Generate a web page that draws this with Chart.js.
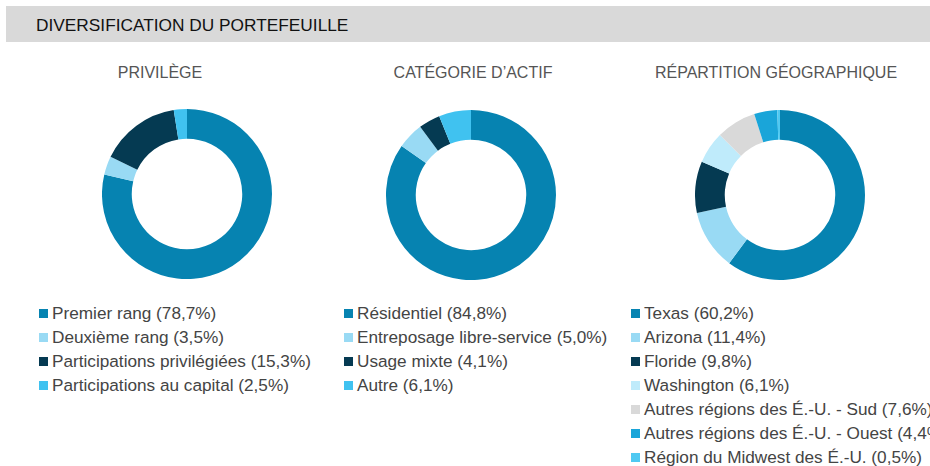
<!DOCTYPE html>
<html>
<head>
<meta charset="utf-8">
<script src="https://cdn.jsdelivr.net/npm/chart.js@4.4.0/dist/chart.umd.min.js"></script>
<style>
  html, body { margin: 0; padding: 0; background: #fff; }
  body { width: 930px; height: 466px; position: relative; overflow: hidden; font-family: "Liberation Sans", Arial, sans-serif; }
  .bandeau { position: absolute; left: 6px; top: 6px; width: 930px; height: 36px; background: #d9d9d9; }
  .bandeau span { position: absolute; left: 30px; top: 9px; font-size: 17.3px; color: #111; }
  .sous-titre { position: absolute; top: 64px; width: 300px; text-align: center; font-size: 16px; color: #555; }
  .donut { position: absolute; }
  .legende { position: absolute; top: 301px; font-size: 17.2px; color: #444; white-space: nowrap; }
  .legende div { height: 24px; line-height: 24px; }
  .legende i { display: inline-block; width: 9px; height: 9px; margin-right: 4px; vertical-align: 1px; }
</style>
</head>
<body>
<div class="bandeau"><span>DIVERSIFICATION DU PORTEFEUILLE</span></div>

<div class="sous-titre" style="left:10px">PRIVILÈGE</div>
<div class="sous-titre" style="left:323px">CATÉGORIE D’ACTIF</div>
<div class="sous-titre" style="left:626px">RÉPARTITION GÉOGRAPHIQUE</div>

<canvas id="donutPrivilege" class="donut" width="170" height="170" style="left:102px;top:109px"></canvas>
<canvas id="donutActif" class="donut" width="170" height="170" style="left:386px;top:110px"></canvas>
<canvas id="donutGeo" class="donut" width="170" height="170" style="left:695px;top:110px"></canvas>

<div id="legendePrivilege" class="legende" style="left:39px"></div>
<div id="legendeActif" class="legende" style="left:344px"></div>
<div id="legendeGeo" class="legende" style="left:631px"></div>

<script>
// Privilège
const privilegeLabels = ['Premier rang', 'Deuxième rang', 'Participations privilégiées', 'Participations au capital'];
const privilegeValues = [78.7, 3.5, 15.3, 2.5];
const privilegeColors = ['#0683b1', '#99daf4', '#053a52', '#40c2f0'];

// Catégorie d'actif
const actifLabels = ['Résidentiel', 'Entreposage libre-service', 'Usage mixte', 'Autre'];
const actifValues = [84.8, 5.0, 4.1, 6.1];
const actifColors = ['#0683b1', '#99daf4', '#053a52', '#40c2f0'];

// Répartition géographique
const geoLabels = ['Texas', 'Arizona', 'Floride', 'Washington', 'Autres régions des É.-U. - Sud', 'Autres régions des É.-U. - Ouest', 'Région du Midwest des É.-U.'];
const geoValues = [60.2, 11.4, 9.8, 6.1, 7.6, 4.4, 0.5];
const geoColors = ['#0683b1', '#99daf4', '#053a52', '#bfebfb', '#d9d9d9', '#1aa5d9', '#4fc9f2'];

function pourcent(v) {
    return v.toFixed(1).replace('.', ',') + '%';
}

function dessinerDonut(canvasId, labels, valeurs, couleurs) {
    const ctx = document.getElementById(canvasId).getContext('2d');
    new Chart(ctx, {
        type: 'doughnut',
        data: {
            labels: labels,
            datasets: [{
                data: valeurs,
                backgroundColor: couleurs,
                borderWidth: 0
            }]
        },
        options: {
            responsive: false,
            animation: false,
            cutout: '65%',
            layout: { padding: 0 },
            plugins: {
                legend: { display: false },
                tooltip: { enabled: false }
            }
        }
    });
}

function remplirLegende(divId, labels, valeurs, couleurs) {
    const div = document.getElementById(divId);
    div.innerHTML = labels.map((l, i) =>
        '<div><i style="background:' + couleurs[i] + '"></i>' + l + ' (' + pourcent(valeurs[i]) + ')</div>'
    ).join('');
}

dessinerDonut('donutPrivilege', privilegeLabels, privilegeValues, privilegeColors);
dessinerDonut('donutActif', actifLabels, actifValues, actifColors);
dessinerDonut('donutGeo', geoLabels, geoValues, geoColors);

remplirLegende('legendePrivilege', privilegeLabels, privilegeValues, privilegeColors);
remplirLegende('legendeActif', actifLabels, actifValues, actifColors);
remplirLegende('legendeGeo', geoLabels, geoValues, geoColors);
</script>
</body>
</html>
